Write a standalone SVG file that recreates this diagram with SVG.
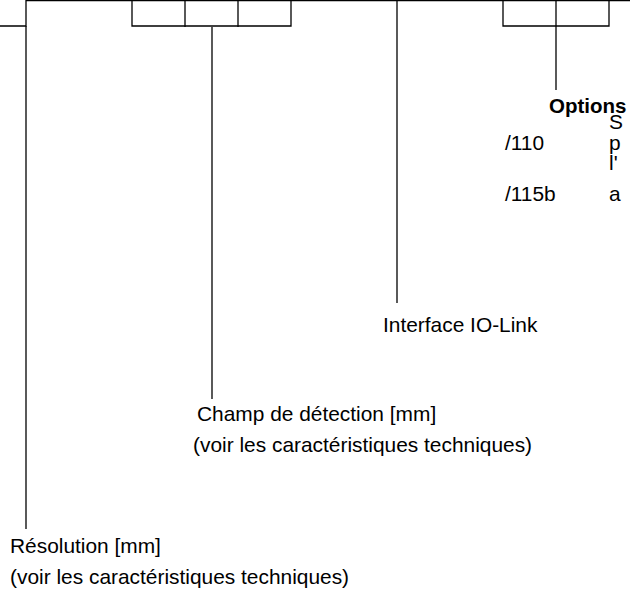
<svg xmlns="http://www.w3.org/2000/svg" width="630" height="594" viewBox="0 0 630 594">
<style>
.ln{stroke:#000;stroke-width:1.3;fill:none}
.t{font-family:"Liberation Sans",Arial,Helvetica,sans-serif;font-size:20.9px;fill:#000}
.b{font-weight:bold;font-size:20.5px}
</style>
<rect width="630" height="594" fill="#fff"/>
<g id="code-boxes" class="ln">
<path d="M26 0.6H630"/>
<path d="M0 26H26V0"/>
<path d="M132 0V26H291V0M185 0V27M238 0V27"/>
<path d="M503 0V26H609V0"/>
</g>
<g id="connectors" class="ln">
<path d="M26 26V529"/>
<path d="M212 27V399"/>
<path d="M397 0V303"/>
<path d="M556 0V90"/>
</g>
<g id="options">
<text class="t b" x="549" y="113">Options</text>
<text class="t" x="609" y="129">S</text>
<text class="t" x="505" y="150">/110</text>
<text class="t" x="609" y="150">p</text>
<text class="t" x="609" y="170">l'</text>
<text class="t" x="505" y="201">/115b</text>
<text class="t" x="609" y="201">a</text>
</g>
<g id="io-link">
<text class="t" x="383" y="332">Interface IO-Link</text>
</g>
<g id="champ">
<text class="t" x="197" y="421">Champ de détection [mm]</text>
<text class="t" x="193" y="452">(voir les caractéristiques techniques)</text>
</g>
<g id="resolution">
<text class="t" x="10" y="553">Résolution [mm]</text>
<text class="t" x="10" y="584">(voir les caractéristiques techniques)</text>
</g>
</svg>
